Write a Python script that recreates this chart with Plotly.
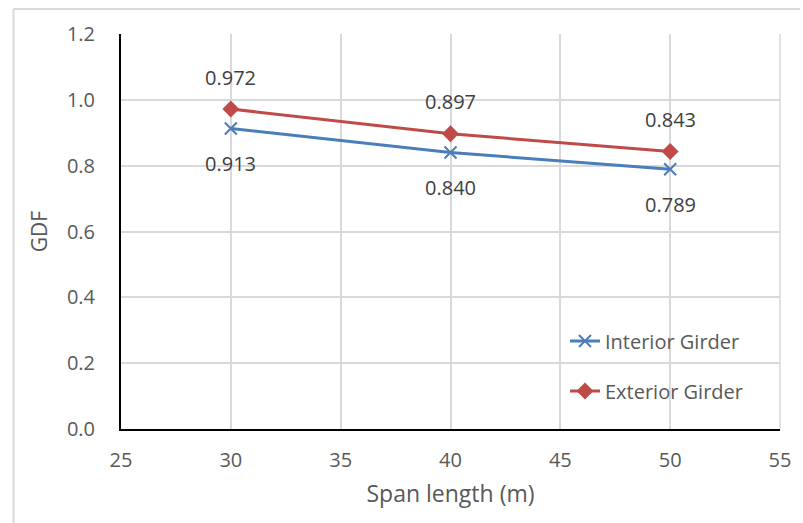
import plotly.graph_objects as go

span = [30, 40, 50]
interior = [0.913, 0.840, 0.789]
exterior = [0.972, 0.897, 0.843]
interior_name = "Interior Girder"
exterior_name = "Exterior Girder"

FONT = "Open Sans"
TXT = "#595959"
BLUE = "#4A7EBB"
RED = "#BE4B48"

fig = go.Figure()
fig.add_trace(go.Scatter(x=span, y=interior, mode="lines+markers", name=interior_name,
                         line=dict(color=BLUE, width=3), showlegend=True,
                         marker=dict(symbol="x-thin", size=12, line=dict(color=BLUE, width=2)),
                         legend="legend"))
fig.add_trace(go.Scatter(x=span, y=exterior, mode="lines+markers", name=exterior_name,
                         line=dict(color=RED, width=3), showlegend=True,
                         marker=dict(symbol="diamond", size=13, color=RED),
                         legend="legend2"))

anns = []
for xv, yv in zip(span, exterior):
    anns.append(dict(x=xv, y=yv, text=f"{yv:.3f}", showarrow=False, yshift=32,
                     font=dict(family=FONT, size=20, color="#404040")))
for xv, yv in zip(span, interior):
    anns.append(dict(x=xv, y=yv, text=f"{yv:.3f}", showarrow=False, yshift=-35,
                     font=dict(family=FONT, size=20, color="#404040")))

W, H = 803, 523
l, r, t, b = 121, 20, 34, 94
pw, ph = W - l - r, H - t - b
px = lambda x: (x - l) / pw
py = lambda y: (H - b - y) / ph

fig.update_layout(
    width=W, height=H,
    margin=dict(l=l, r=r, t=t, b=b),
    paper_bgcolor="white", plot_bgcolor="white",
    font=dict(family=FONT, color=TXT, size=20),
    annotations=anns,
    showlegend=True,
    legend=dict(x=px(567), y=py(341), xanchor="left", yanchor="middle",
                bgcolor="rgba(0,0,0,0)", font=dict(family=FONT, size=20, color=TXT)),
    legend2=dict(x=px(567), y=py(391), xanchor="left", yanchor="middle",
                 bgcolor="rgba(0,0,0,0)", font=dict(family=FONT, size=20, color=TXT)),
    xaxis=dict(range=[25, 55], dtick=5, tick0=25, showgrid=True, gridcolor="#D9D9D9", gridwidth=1.5,
               showline=True, linecolor="black", linewidth=2, mirror=False, zeroline=False,
               ticks="", ticklabelstandoff=12, tickfont=dict(family=FONT, size=20, color=TXT),
               title=dict(text="Span length (m)", font=dict(family=FONT, size=23, color=TXT), standoff=14)),
    yaxis=dict(range=[0, 1.2], dtick=0.2, tickformat=".1f", showgrid=True, gridcolor="#D9D9D9", gridwidth=1.5,
               showline=True, linecolor="black", linewidth=2, zeroline=False,
               ticks="", ticklabelstandoff=20, tickfont=dict(family=FONT, size=20, color=TXT),
               title=dict(text="GDF", font=dict(family=FONT, size=21, color=TXT), standoff=14)),
    shapes=[
        dict(type="line", xref="paper", yref="paper", x0=1, x1=1, y0=0, y1=1,
             line=dict(color="#D9D9D9", width=1.5)),
        dict(type="line", xref="paper", yref="paper", x0=px(13), x1=px(803), y0=py(9), y1=py(9),
             line=dict(color="#D9D9D9", width=2)),
        dict(type="line", xref="paper", yref="paper", x0=px(13), x1=px(13), y0=py(9), y1=py(523),
             line=dict(color="#D9D9D9", width=2)),
    ],
)

fig.write_html("out.html", config={"displayModeBar": False},
               post_script="document.body.style.margin='0';")
